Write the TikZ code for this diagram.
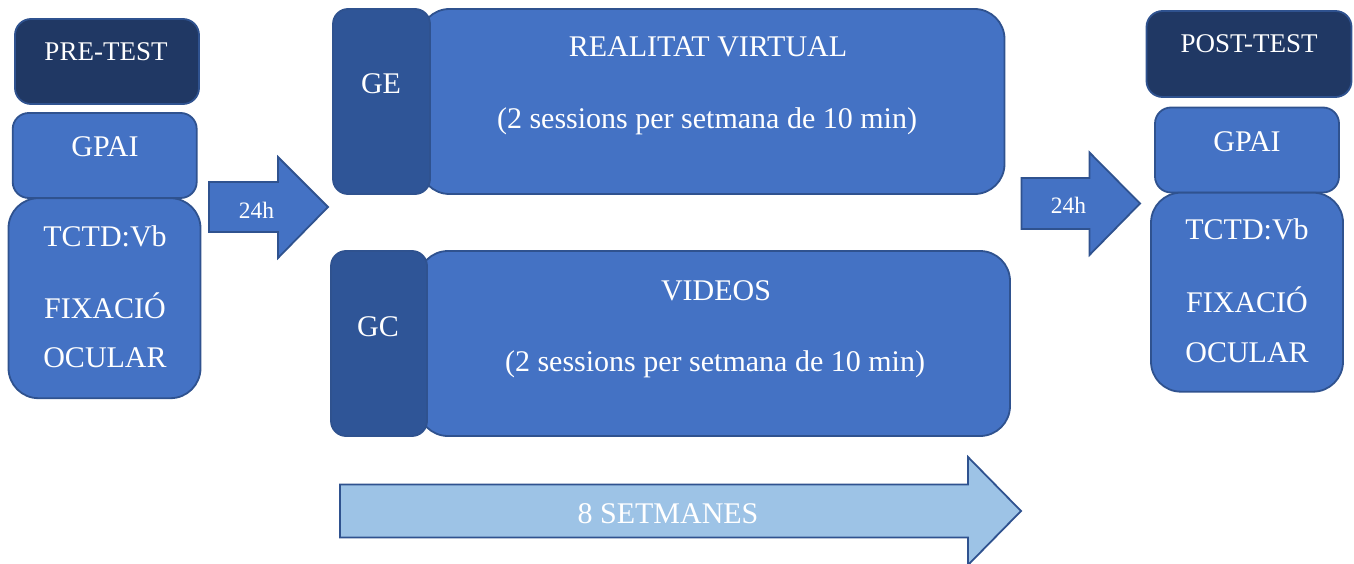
\documentclass[tikz,border=0pt]{standalone}
\usepackage{fontspec}
\setmainfont{Liberation Serif}
\definecolor{mblue}{HTML}{4472C4}
\definecolor{bord}{HTML}{2F528F}
\definecolor{dblue}{HTML}{2F5597}
\definecolor{navy}{HTML}{203864}
\definecolor{lblue}{HTML}{9DC3E6}
\tikzset{
  box/.style={draw=bord, line width=1.8pt, fill=mblue, inner sep=0pt, outer sep=0pt},
  darkbox/.style={box, fill=dblue},
  navybox/.style={box, fill=navy},
  blockarrow/.style={draw=bord, line width=1.8pt, fill=mblue, line join=miter},
  txt/.style={text=white, anchor=base, inner sep=0pt, font=\fontsize{30}{35}\selectfont},
  smalltxt/.style={txt, font=\fontsize{23.5}{27}\selectfont},
  headtxt/.style={txt, font=\fontsize{27}{32}\selectfont}
}
\begin{document}
\begin{tikzpicture}[x=1pt,y=-1pt]
\useasboundingbox (0,0) rectangle (1354,564);

% left column
\node[navybox, rounded corners=16pt, minimum width=184pt, minimum height=85pt] (pre) at (107,61.5) {};
\node[box, rounded corners=16pt, minimum width=184pt, minimum height=85pt] (gpaiL) at (104.7,155.5) {};
\node[box, rounded corners=30pt, minimum width=192pt, minimum height=200pt] (tctdL) at (104.5,298.2) {};
\node[headtxt] (preT) at (106,60.7) {PRE-TEST};
\node[txt] (gpaiLT) at (105,156.7) {GPAI};
\node[txt] (tctdLT) at (105,246.7) {TCTD:Vb};
\node[txt] (fixLT) at (105,318.3) {FIXACIÓ};
\node[txt] (ocuLT) at (105,367.7) {OCULAR};

% left 24h arrow
\draw[blockarrow] (209,182) -- (278,182) -- (278,157) -- (328,207) -- (278,258) -- (278,232) -- (209,232) -- cycle;
\node[smalltxt] (h24L) at (256.5,218.3) {24h};

% GE
\node[box, rounded corners=30pt, minimum width=585pt, minimum height=185pt] (geM) at (712,101.5) {};
\node[darkbox, rounded corners=15pt, minimum width=97pt, minimum height=185pt] (ge) at (381.5,101.5) {};
\node[txt] (geT) at (381,93.3) {GE};
\node[txt] (rvT) at (708,56.7) {REALITAT VIRTUAL};
\node[txt] (rvS) at (707,128.3) {(2 sessions per setmana de 10 min)};

% GC
\node[box, rounded corners=30pt, minimum width=592pt, minimum height=185pt] (gcM) at (714,343.5) {};
\node[darkbox, rounded corners=15pt, minimum width=96pt, minimum height=185pt] (gc) at (379,343.5) {};
\node[txt] (gcT) at (378,336) {GC};
\node[txt] (viT) at (716,300.7) {VIDEOS};
\node[txt] (viS) at (715,371.7) {(2 sessions per setmana de 10 min)};

% right 24h arrow
\draw[blockarrow] (1021.5,178) -- (1089.5,178) -- (1089.5,152.5) -- (1140,203.5) -- (1089.5,255) -- (1089.5,229) -- (1021.5,229) -- cycle;
\node[smalltxt] (h24R) at (1068.5,213.3) {24h};

% right column
\node[navybox, rounded corners=16pt, minimum width=205pt, minimum height=86pt] (post) at (1249,54) {};
\node[box, rounded corners=16pt, minimum width=184pt, minimum height=85pt] (gpaiR) at (1247,150) {};
\node[box, rounded corners=30pt, minimum width=192pt, minimum height=199pt] (tctdR) at (1247,292.2) {};
\node[headtxt] (postT) at (1249,52.3) {POST-TEST};
\node[txt] (gpaiRT) at (1247,151.7) {GPAI};
\node[txt] (tctdRT) at (1247,240) {TCTD:Vb};
\node[txt] (fixRT) at (1247,312.5) {FIXACIÓ};
\node[txt] (ocuRT) at (1247,362.5) {OCULAR};

% bottom arrow
\draw[blockarrow, fill=lblue] (340,484.5) -- (968,484.5) -- (968,457) -- (1021,511) -- (968,565) -- (968,537.5) -- (340,537.5) -- cycle;
\node[txt] (weeks) at (668,523.3) {8 SETMANES};
\end{tikzpicture}
\end{document}
